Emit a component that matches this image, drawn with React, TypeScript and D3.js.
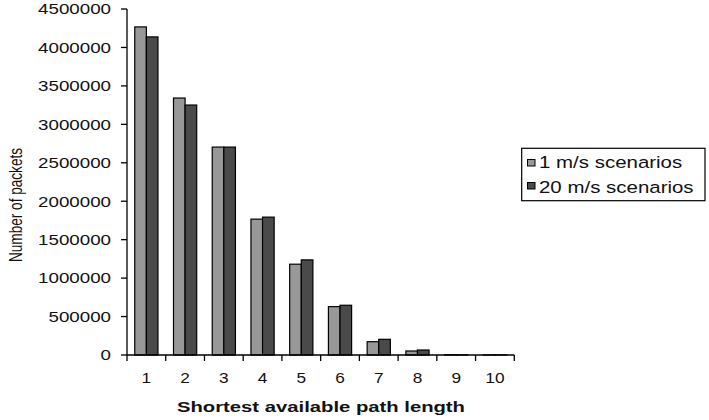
import React from "react";
import * as d3 from "d3";

const categories = ["1", "2", "3", "4", "5", "6", "7", "8", "9", "10"];
const series1 = [4267000, 3342000, 2704000, 1767000, 1181000, 629000, 173000, 52000, 3000, 1000];
const series2 = [4137000, 3251000, 2704000, 1793000, 1237000, 647000, 204000, 65000, 2000, 1000];
const seriesNames = ["1 m/s scenarios", "20 m/s scenarios"];
const yTicks = [0, 500000, 1000000, 1500000, 2000000, 2500000, 3000000, 3500000, 4000000, 4500000];
const xTitle = "Shortest available path length";
const yTitle = "Number of packets";

const colors = ["#989898", "#4a4a4a"];
const FONT = "'Liberation Sans', Arial, sans-serif";

export default function App() {
  const left = 127, right = 514.3, top = 9, bottom = 355;
  const x = d3.scaleBand<string>().domain(categories).range([left, right]).paddingInner(0).paddingOuter(0);
  const y = d3.scaleLinear().domain([0, 4500000]).range([bottom, top]);
  const barW = 11.6;
  const data = [series1, series2];

  return (
    <svg width={709} height={420} style={{ position: "absolute", left: 0, top: 0, background: "#fff" }} fontFamily={FONT}>
      <rect x={0} y={0} width={709} height={420} fill="#fff" />
      {/* bars */}
      {categories.map((c, i) => {
        const cx = (x(c) as number) + x.bandwidth() / 2;
        return data.map((s, k) => {
          const bx = cx - barW + k * barW;
          const by = y(s[i]);
          const h = bottom - by;
          return (
            <rect key={c + "-" + k} x={bx} y={by} width={barW} height={Math.max(0, h)}
              fill={colors[k]} stroke="#000" strokeWidth={1.2} />
          );
        });
      })}
      {/* y axis */}
      <line x1={left} x2={left} y1={top} y2={bottom} stroke="#000" strokeWidth={1.3} />
      {yTicks.map((t) => (
        <g key={t}>
          <line x1={left - 6} x2={left} y1={y(t)} y2={y(t)} stroke="#000" strokeWidth={1.3} />
          <text transform={`translate(111,${y(t) + 5.3}) scale(1.25,1)`} textAnchor="end" fontSize={15} fill="#111">
            {String(t)}
          </text>
        </g>
      ))}
      {/* x axis */}
      <line x1={left} x2={right} y1={bottom} y2={bottom} stroke="#000" strokeWidth={1.3} />
      {d3.range(categories.length + 1).map((k) => {
        const tx = left + k * x.bandwidth();
        return <line key={k} x1={tx} x2={tx} y1={bottom} y2={bottom + 6} stroke="#000" strokeWidth={1.3} />;
      })}
      {categories.map((c) => (
        <text key={c} transform={`translate(${(x(c) as number) + x.bandwidth() / 2},383) scale(1.15,1)`}
          textAnchor="middle" fontSize={15} fill="#111">{c}</text>
      ))}
      {/* axis titles */}
      <text x={321} y={412} textAnchor="middle" fontSize={15} fontWeight="bold" fill="#111"
        textLength={288} lengthAdjust="spacingAndGlyphs">{xTitle}</text>
      <text transform="translate(21.5,205) scale(1.4,1) rotate(-90)" textAnchor="middle" fontSize={13.6} fill="#111">
        {yTitle}
      </text>
      {/* legend */}
      <rect x={521.7} y={148.3} width={183.3} height={52.4} fill="#fff" stroke="#000" strokeWidth={1.2} />
      {seriesNames.map((n, k) => (
        <g key={n}>
          <rect x={527.5} y={159.5 + k * 23} width={7.5} height={6.5} fill={colors[k]} stroke="#000" strokeWidth={1} />
          <text transform={`translate(539,${167.8 + k * 25}) scale(1.24,1)`} fontSize={16.5} fill="#111">{n}</text>
        </g>
      ))}
    </svg>
  );
}
